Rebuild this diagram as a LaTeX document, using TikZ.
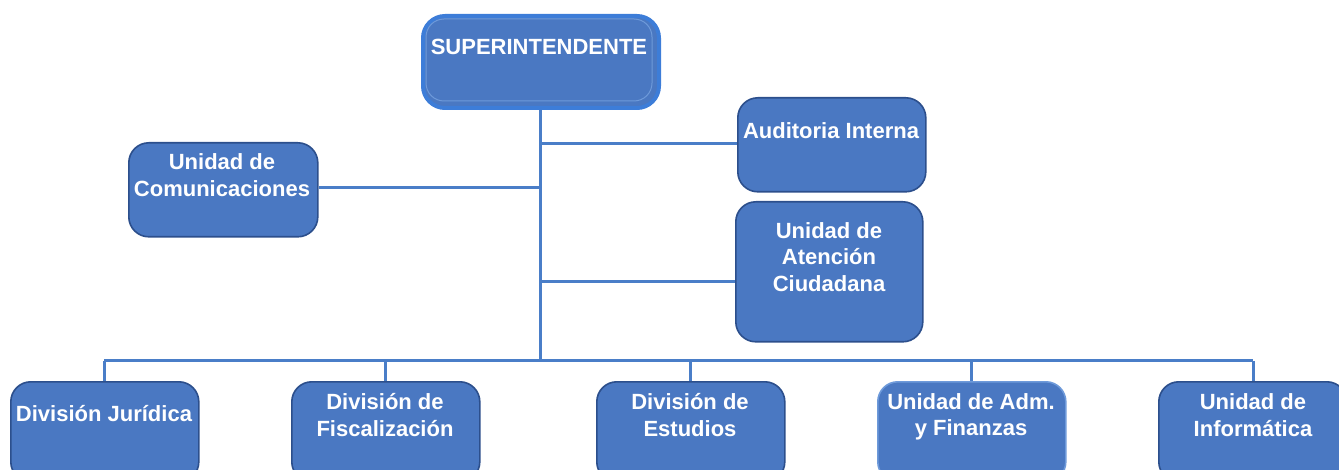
\documentclass[tikz,border=0pt]{standalone}
\usepackage{fontspec}
\setmainfont{Liberation Sans}
\definecolor{boxfill}{HTML}{4A78C2}
\definecolor{boxline}{HTML}{2C4F8C}
\definecolor{linkblue}{HTML}{4A7EC8}
\definecolor{topline}{HTML}{3D7DD8}
\definecolor{lightline}{HTML}{6E9ADA}
\begin{document}
\begin{tikzpicture}[x=1pt,y=-1pt,
  orgbox/.style={draw=boxline, line width=1.6pt, fill=boxfill, rounded corners=20pt, anchor=north west, inner sep=0pt},
  orgtext/.style={text=white, font=\fontsize{22}{26.5}\selectfont\bfseries, align=center, inner sep=0pt},
  link/.style={draw=linkblue, line width=3pt}]
\useasboundingbox (0,0) rectangle (1339,470);
\clip (0,0) rectangle (1339,470);
% boxes
\node[orgbox, draw=topline, line width=4pt, rounded corners=22pt, minimum width=236pt, minimum height=92pt] (sup) at (421,14) {};
\draw[lightline, line width=1pt, rounded corners=18pt] (426,19) rectangle (652,101);
\node[orgbox, minimum width=188pt, minimum height=94pt] (aud) at (737,97) {};
\node[orgbox, minimum width=189pt, minimum height=94pt] (com) at (128,142) {};
\node[orgbox, minimum width=187pt, minimum height=140pt] (ate) at (735,201) {};
\node[orgbox, minimum width=188pt, minimum height=100pt] (jur) at (10,381) {};
\node[orgbox, minimum width=188pt, minimum height=100pt] (fis) at (291,381) {};
\node[orgbox, minimum width=188pt, minimum height=100pt] (est) at (596,381) {};
\node[orgbox, draw=lightline, minimum width=188pt, minimum height=100pt] (adm) at (877,381) {};
\node[orgbox, minimum width=188pt, minimum height=100pt] (inf) at (1158,381) {};
% texts
\node[orgtext] (tsup) at (539,47) {SUPERINTENDENTE};
\node[orgtext] (taud) at (831,131) {Auditoria Interna};
\node[orgtext] (tcom) at (222,175) {Unidad de\\Comunicaciones};
\node[orgtext] (tate) at (829,257) {Unidad de\\Atención\\Ciudadana};
\node[orgtext] (tjur) at (104,414) {División Jurídica};
\node[orgtext] (tfis) at (385,415) {División de\\Fiscalización};
\node[orgtext] (test) at (690,415) {División de\\Estudios};
\node[orgtext] (tadm) at (971,417) {Unidad de Adm.\\y Finanzas};
\node[orgtext] (tinf) at (1253,415) {Unidad de\\Informática};
% connectors
\coordinate (trunk) at (540,361);
\coordinate (busl) at (104,361);
\coordinate (busr) at (1253,361);
\coordinate (bfis) at (385,361);
\coordinate (best) at (690,361);
\coordinate (badm) at (971,361);
\draw[link] (sup.south -| trunk) -- (trunk);
\draw[link] (busl) -- (busr);
\draw[link] (aud.west |- 0,144) -- (540,144);
\draw[link] (com.east |- 0,188) -- (540,188);
\draw[link] (ate.west |- 0,282) -- (540,282);
\draw[link] (busl) -- (jur.north -| busl);
\draw[link] (bfis) -- (fis.north -| bfis);
\draw[link] (best) -- (est.north -| best);
\draw[link] (badm) -- (adm.north -| badm);
\draw[link] (busr) -- (inf.north -| busr);
\end{tikzpicture}
\end{document}
